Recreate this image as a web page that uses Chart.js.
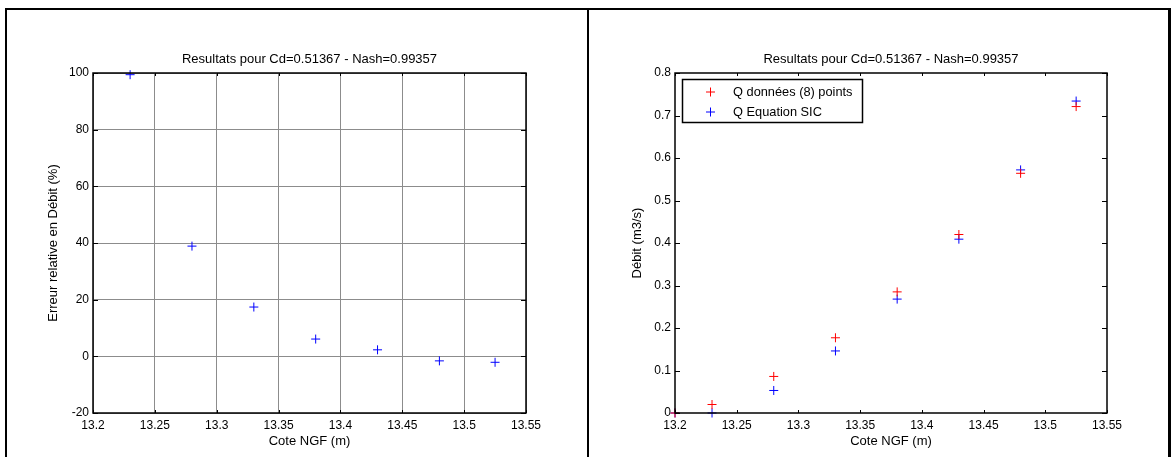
<!DOCTYPE html>
<html><head><meta charset="utf-8">
<script src="https://cdn.jsdelivr.net/npm/chart.js@4/dist/chart.umd.min.js"></script>
<style>
html,body{margin:0;padding:0;background:#fff;width:1171px;height:457px;overflow:hidden;position:relative}
.c{position:absolute;top:0}
.b{position:absolute;background:#000}
</style></head><body>
<div class="c" style="left:0;width:587px;height:457px"><canvas id="c1" width="587" height="457"></canvas></div>
<div class="c" style="left:587px;width:584px;height:457px"><canvas id="c2" width="584" height="457"></canvas></div>
<div class="b" style="left:5px;top:8px;width:2px;height:449px"></div>
<div class="b" style="left:5px;top:8px;width:1166px;height:2px"></div>
<div class="b" style="left:587px;top:8px;width:2px;height:449px"></div>
<div class="b" style="left:1168px;top:8px;width:3px;height:449px"></div>
<script>
// ---- data ----
const titleText = 'Resultats pour Cd=0.51367 - Nash=0.99357';
const xTitle = 'Cote NGF (m)';
const yTitleErr = 'Erreur relative en Débit (%)';
const yTitleQ = 'Débit (m3/s)';
const seriesLabels = ['Q données (8) points', 'Q Equation SIC'];

const cote = [13.2, 13.23, 13.28, 13.33, 13.38, 13.43, 13.48, 13.525];
const coteErreur = [13.23, 13.28, 13.33, 13.38, 13.43, 13.48, 13.525];
const erreurDebit = [99.4, 38.9, 17.4, 6.1, 2.3, -1.6, -2.1];
const qDonnees = [0, 0.020, 0.086, 0.177, 0.285, 0.420, 0.564, 0.721];
const qEquation = [0, 0.000, 0.053, 0.146, 0.268, 0.409, 0.572, 0.734];

const xTicks = [13.2, 13.25, 13.3, 13.35, 13.4, 13.45, 13.5, 13.55];
const xTickLabels = ['13.2', '13.25', '13.3', '13.35', '13.4', '13.45', '13.5', '13.55'];
const yTicksErr = [-20, 0, 20, 40, 60, 80, 100];
const yTickLabelsErr = ['-20', '0', '20', '40', '60', '80', '100'];
const yTicksQ = [0, 0.1, 0.2, 0.3, 0.4, 0.5, 0.6, 0.7, 0.8];
const yTickLabelsQ = ['0', '0.1', '0.2', '0.3', '0.4', '0.5', '0.6', '0.7', '0.8'];

// ---- helpers ----
const FONT = 'Arial, "Liberation Sans", sans-serif';
const pts = (xs, ys) => xs.map((x, i) => ({x: x, y: ys[i]}));

function drawCross(ctx, x, y, r, color) {
  ctx.save();
  ctx.strokeStyle = color; ctx.lineWidth = 1;
  ctx.beginPath();
  ctx.moveTo(x - r, y); ctx.lineTo(x + r, y);
  ctx.moveTo(x, y - r); ctx.lineTo(x, y + r);
  ctx.stroke();
  ctx.restore();
}

const matlabAxes = {
  id: 'matlabAxes',
  afterDraw(chart, args, opts) {
    const ctx = chart.ctx;
    const a = chart.chartArea;
    const xs = chart.scales.x, ys = chart.scales.y;
    ctx.save();
    ctx.strokeStyle = '#000';
    ctx.lineWidth = 1;
    ctx.beginPath();
    xs.ticks.forEach(t => {
      const p = Math.round(xs.getPixelForValue(t.value)) + 0.5;
      ctx.moveTo(p, a.bottom); ctx.lineTo(p, a.bottom - opts.xTickLen);
      ctx.moveTo(p, a.top); ctx.lineTo(p, a.top + opts.xTickLen);
    });
    ys.ticks.forEach(t => {
      const p = Math.round(ys.getPixelForValue(t.value)) + 0.5;
      ctx.moveTo(a.left, p); ctx.lineTo(a.left + opts.yTickLen, p);
      ctx.moveTo(a.right, p); ctx.lineTo(a.right - opts.yTickLen, p);
    });
    ctx.stroke();
    ctx.lineWidth = opts.boxWidth;
    ctx.strokeRect(Math.round(a.left), Math.round(a.top), Math.round(a.right - a.left), Math.round(a.bottom - a.top));
    if (opts.legend) {
      const L = opts.legend;
      ctx.fillStyle = '#fff';
      ctx.fillRect(L.x, L.y, L.w, L.h);
      ctx.lineWidth = 1.5;
      ctx.strokeRect(L.x, L.y, L.w, L.h);
      ctx.font = '12.8px ' + FONT;
      ctx.textBaseline = 'middle';
      ctx.textAlign = 'left';
      chart.data.datasets.forEach((ds, i) => {
        const yy = L.rows[i];
        drawCross(ctx, L.markerX, yy, 4.5, ds.borderColor);
        ctx.fillStyle = '#000';
        ctx.fillText(ds.label, L.textX, yy + 0.5);
      });
    }
    ctx.restore();
  }
};

function makeOptions(cfg) {
  return {
    responsive: false,
    animation: false,
    layout: {padding: {left: 0, right: cfg.padRight, top: 0, bottom: 0}},
    plugins: {
      legend: {display: false},
      tooltip: {enabled: false},
      title: {
        display: true, text: titleText, fullSize: false, color: '#000',
        font: {family: FONT, size: 13, weight: 'normal', lineHeight: 1.2},
        padding: {top: 51.2, bottom: 6.2}
      },
      matlabAxes: {xTickLen: 3, yTickLen: 5, boxWidth: 1.5, legend: cfg.legend || null}
    },
    scales: {
      x: {
        type: 'linear', min: 13.2, max: 13.55,
        afterBuildTicks: s => { s.ticks = xTicks.map(v => ({value: v})); },
        afterFit: s => { s.height = 44; },
        ticks: {
          autoSkip: false, maxRotation: 0, padding: 5, color: '#000',
          font: {family: FONT, size: 12},
          callback: v => xTickLabels[xTicks.indexOf(v)]
        },
        grid: {display: cfg.grid, color: '#8c8c8c', lineWidth: 1, drawTicks: false},
        border: {display: false},
        title: {display: true, text: xTitle, color: '#000', font: {family: FONT, size: 13}, padding: {top: 0, bottom: 7.7}}
      },
      y: {
        type: 'linear', min: cfg.yMin, max: cfg.yMax,
        afterBuildTicks: s => { s.ticks = cfg.yTicks.map(v => ({value: v})); },
        afterFit: s => { s.width = cfg.yWidth; },
        ticks: {
          autoSkip: false, padding: 4, color: '#000',
          font: {family: FONT, size: 12},
          callback: v => cfg.yTickLabels[cfg.yTicks.indexOf(v)]
        },
        grid: {display: cfg.grid, color: '#8c8c8c', lineWidth: 1, drawTicks: false},
        border: {display: false},
        title: {display: true, text: cfg.yTitle, color: '#000', font: {family: FONT, size: 13}, padding: {top: cfg.yTitlePad, bottom: 0}}
      }
    }
  };
}

const markerDefaults = {pointStyle: 'cross', pointRadius: 4.5, pointHoverRadius: 4.5, borderWidth: 1, showLine: false, clip: false};

new Chart(document.getElementById('c1'), {
  type: 'scatter',
  data: {datasets: [Object.assign({label: 'Erreur', data: pts(coteErreur, erreurDebit), borderColor: '#0000ff', backgroundColor: '#0000ff'}, markerDefaults)]},
  options: makeOptions({padRight: 61, grid: true, yMin: -20, yMax: 100, yTicks: yTicksErr, yTickLabels: yTickLabelsErr, yWidth: 93, yTitle: yTitleErr, yTitlePad: 45.2})
  , plugins: [matlabAxes]
});

new Chart(document.getElementById('c2'), {
  type: 'scatter',
  data: {datasets: [
    Object.assign({label: seriesLabels[0], data: pts(cote, qDonnees), borderColor: '#ff0000', backgroundColor: '#ff0000'}, markerDefaults),
    Object.assign({label: seriesLabels[1], data: pts(cote, qEquation), borderColor: '#0000ff', backgroundColor: '#0000ff'}, markerDefaults)
  ]},
  options: makeOptions({padRight: 64, grid: false, yMin: 0, yMax: 0.8, yTicks: yTicksQ, yTickLabels: yTickLabelsQ, yWidth: 88, yTitle: yTitleQ, yTitlePad: 42.2,
    legend: {x: 95.5, y: 79.5, w: 180, h: 43, markerX: 123.5, textX: 146, rows: [92, 112]}})
  , plugins: [matlabAxes]
});
</script>
</body></html>
